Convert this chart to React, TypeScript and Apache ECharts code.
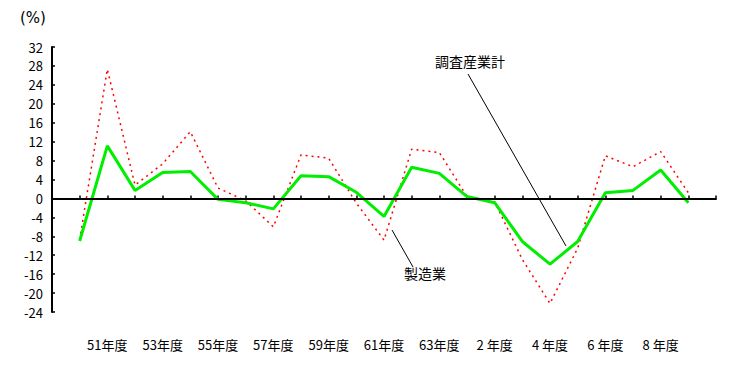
import React, { useEffect, useRef } from "react";
import * as echarts from "echarts";

const categories = [
  "", "50年度", "51年度", "52年度", "53年度", "54年度", "55年度", "56年度", "57年度",
  "58年度", "59年度", "60年度", "61年度", "62年度", "63年度", "元年度",
  "2 年度", "3 年度", "4 年度", "5 年度", "6 年度", "7 年度", "8 年度", "9 年度", "",
];

// 調査産業計 (green, solid)
const allIndustries = [
  -9.0, 11.1, 1.7, 5.5, 5.7, -0.2, -0.9, -2.2, 4.8, 4.6, 1.3, -3.8,
  6.6, 5.3, 0.4, -0.9, -9.1, -13.9, -9.1, 1.2, 1.7, 6.0, -0.9,
];

// 製造業 (red, dotted)
const manufacturing = [
  -8.7, 27.3, 2.8, 7.3, 14.1, 2.2, -0.5, -6.0, 9.2, 8.5, -1.0, -8.8,
  10.4, 9.7, 0.4, -0.7, -12.9, -22.2, -10.5, 9.0, 6.7, 9.9, 1.2,
];

const yTicks = { min: -24, max: 32, interval: 4 };

const FONT = "'Noto Sans CJK JP', 'DejaVu Sans', sans-serif";

export default function App() {
  const ref = useRef<HTMLDivElement>(null);
  useEffect(() => {
    if (!ref.current) return;
    const chart = echarts.init(ref.current, undefined, { renderer: "svg" });
    const pad = (arr: number[]) => [null, ...arr, null];
    chart.setOption({
      animation: false,
      backgroundColor: "#ffffff",
      grid: { left: 52, right: 28, top: 47, bottom: 53 },
      xAxis: {
        type: "category",
        data: categories,
        boundaryGap: false,
        axisLine: { lineStyle: { color: "#000", width: 2 } },
        axisTick: { inside: true, length: 3, interval: 0, lineStyle: { color: "#000", width: 1.5 } },
        axisLabel: {
          interval: (i: number) => i % 2 === 0 && i >= 2 && i <= 22,
          margin: 26,
          color: "#000",
          fontSize: 13,
          fontFamily: FONT,
        },
        splitLine: { show: false },
      },
      yAxis: {
        type: "value",
        min: yTicks.min,
        max: yTicks.max,
        interval: yTicks.interval,
        axisLine: { show: true, lineStyle: { color: "#000", width: 2 } },
        axisTick: { show: true, inside: true, length: 3, lineStyle: { color: "#000", width: 1.5 } },
        axisLabel: { color: "#000", fontSize: 13, fontFamily: FONT, margin: 9 },
        splitLine: { show: false },
      },
      graphic: [
        {
          type: "text",
          left: 20,
          top: 10,
          style: { text: "(%)", fontSize: 15, fontFamily: "'DejaVu Sans', sans-serif", fill: "#000" },
        },
        {
          type: "text",
          left: 435,
          top: 54,
          style: { text: "調査産業計", fontSize: 14, fontFamily: FONT, fill: "#000" },
        },
        {
          type: "line",
          shape: { x1: 468, y1: 74, x2: 566, y2: 246 },
          style: { stroke: "#000", lineWidth: 1 },
        },
        {
          type: "text",
          left: 404,
          top: 266,
          style: { text: "製造業", fontSize: 14, fontFamily: FONT, fill: "#000" },
        },
        {
          type: "line",
          shape: { x1: 392, y1: 230, x2: 413, y2: 267 },
          style: { stroke: "#000", lineWidth: 1 },
        },
      ],
      series: [
        {
          name: "製造業",
          type: "line",
          data: pad(manufacturing),
          symbol: "none",
          lineStyle: { color: "#ff0000", width: 1.5, type: [2, 4] },
          z: 2,
        },
        {
          name: "調査産業計",
          type: "line",
          data: pad(allIndustries),
          symbol: "none",
          lineStyle: { color: "#00ee00", width: 3 },
          z: 3,
          markLine: {
            silent: true,
            symbol: "none",
            label: { show: false },
            lineStyle: { color: "#000", width: 2, type: "solid" },
            data: [{ yAxis: 0 }],
            z: 4,
          },
        },
      ],
    });
    return () => chart.dispose();
  }, []);
  return (
    <div
      ref={ref}
      style={{ position: "fixed", left: 0, top: 0, width: 744, height: 365, background: "#fff" }}
    />
  );
}
